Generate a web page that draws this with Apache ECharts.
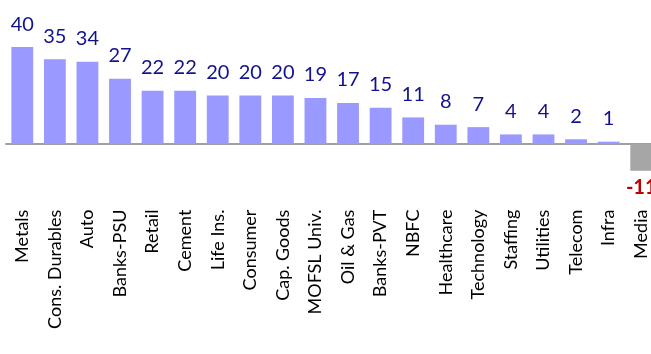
<!DOCTYPE html>
<html>
<head>
<meta charset="utf-8">
<script src="https://cdn.jsdelivr.net/npm/echarts@6/dist/echarts.min.js"></script>
<style>
  html, body { margin: 0; padding: 0; background: #fff; }
  #chart { width: 651px; height: 354px; }
</style>
</head>
<body>
<div id="chart"></div>
<script>
// Sector-wise values, sorted high to low
const sectors = ['Metals', 'Cons. Durables', 'Auto', 'Banks-PSU', 'Retail', 'Cement', 'Life Ins.',
  'Consumer', 'Cap. Goods', 'MOFSL Univ.', 'Oil & Gas', 'Banks-PVT', 'NBFC', 'Healthcare',
  'Technology', 'Staffing', 'Utilities', 'Telecom', 'Infra', 'Media'];
const values = [40, 35, 34, 27, 22, 22, 20, 20, 20, 19, 17, 15, 11, 8, 7, 4, 4, 2, 1, -11];

const FONT = 'Lato, "Open Sans", sans-serif';
const posColor = '#9999ff';
const negColor = '#a6a6a6';

const data = values.map(v => {
  const neg = v < 0;
  return {
    value: v,
    itemStyle: { color: neg ? negColor : posColor },
    label: neg
      ? { position: 'bottom', distance: 7, color: '#c00000', fontWeight: 'bold' }
      : { position: 'top', distance: 13, color: '#12128c' }
  };
});

const chart = echarts.init(document.getElementById('chart'), null, { renderer: 'canvas' });
chart.setOption({
  animation: false,
  grid: {
    left: 6, top: 35, width: 651.5, height: 157.6,
    containLabel: false, outerBoundsMode: 'none'
  },
  xAxis: {
    type: 'category',
    data: sectors,
    axisLine: { onZero: true, lineStyle: { color: '#a0a0a0', width: 2 } },
    axisTick: { show: false },
    axisLabel: {
      interval: 0,
      rotate: 90,
      margin: 17,
      color: '#000',
      fontFamily: FONT,
      fontSize: 18
    }
  },
  yAxis: {
    type: 'value',
    min: -20,
    max: 45,
    show: false,
    splitLine: { show: false }
  },
  series: [{
    type: 'bar',
    data: data,
    barCategoryGap: '33%',
    label: {
      show: true,
      fontFamily: FONT,
      fontSize: 20
    }
  }]
});
</script>
</body>
</html>
